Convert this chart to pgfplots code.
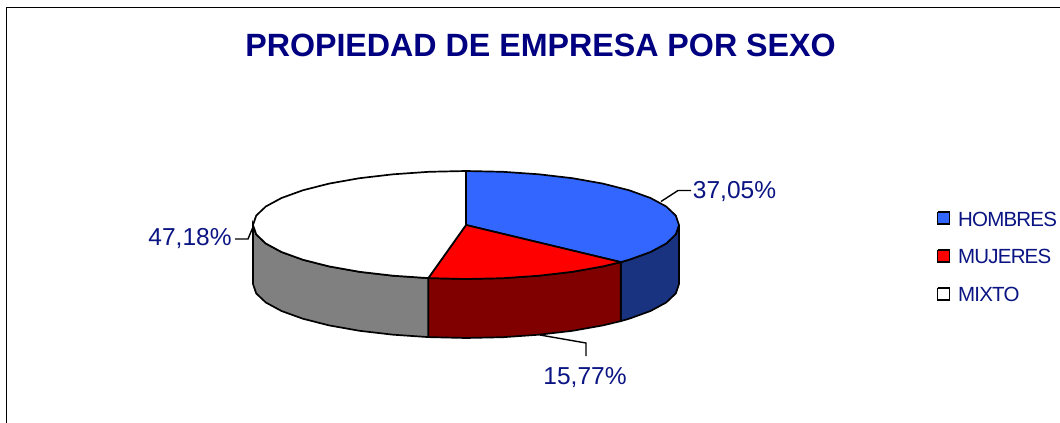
\documentclass[border=0pt]{standalone}
\usepackage{fontspec}
\setmainfont{Liberation Sans}
\usepackage{pgfplots}
\pgfplotsset{compat=1.18}
\definecolor{titleblue}{RGB}{0,0,128}
\definecolor{lab}{RGB}{10,20,130}
\definecolor{hom}{RGB}{51,102,255}
\definecolor{homd}{RGB}{26,51,128}
\definecolor{muj}{RGB}{255,0,0}
\definecolor{mujd}{RGB}{128,0,0}
\definecolor{mix}{RGB}{255,255,255}
\definecolor{mixd}{RGB}{128,128,128}
\begin{document}
\begin{tikzpicture}
\path[use as bounding box] (0,0) rectangle (1060bp,423bp);
\begin{axis}[
  at={(0,0)}, anchor=south west, scale only axis,
  width=1060bp, height=423bp,
  xmin=0, xmax=1060, ymin=0, ymax=423, y dir=reverse,
  hide axis, clip=true,
]
% frame
\addplot[black, line width=2pt] coordinates {(6.5,423) (6.5,7.5) (1060,7.5)};
% sides
\addplot[fill=homd, draw=black, line width=1.7pt] coordinates {
(679,225)(675.8,234.4)(666.2,243.5)(650.5,252)(629.2,259.7)(620.8,262.1)
(620.8,321.1)(629.2,318.7)(650.5,311)(666.2,302.5)(675.8,293.4)(679,284)(679,225)};
\addplot[fill=mujd, draw=black, line width=1.7pt] coordinates {
(620.8,262.1)(602.9,266.4)(572.5,271.8)(538.9,275.7)(503,278.2)(466,279)(428.3,278.1)
(428.3,337.1)(466,338)(503,337.2)(538.9,334.7)(572.5,330.8)(602.9,325.4)(620.8,321.1)(620.8,262.1)};
\addplot[fill=mixd, draw=black, line width=1.7pt] coordinates {
(428.3,278.1)(393.1,275.7)(359.5,271.8)(329.1,266.4)(302.8,259.7)(281.5,252)(265.8,243.5)(256.2,234.4)(253,225)
(253,284)(256.2,293.4)(265.8,302.5)(281.5,311)(302.8,318.7)(329.1,325.4)(359.5,330.8)(393.1,334.7)(428.3,337.1)(428.3,278.1)};
% top faces
\addplot[fill=hom, draw=black, line width=1.7pt] coordinates {
(466,225)(466,171)(503,171.8)(538.9,174.3)(572.5,178.2)(602.9,183.6)(629.2,190.3)(650.5,198)(666.2,206.5)(675.8,215.6)
(679,225)(675.8,234.4)(666.2,243.5)(650.5,252)(629.2,259.7)(620.8,262.1)(466,225)};
\addplot[fill=muj, draw=black, line width=1.7pt] coordinates {
(466,225)(620.8,262.1)(602.9,266.4)(572.5,271.8)(538.9,275.7)(503,278.2)(466,279)(428.3,278.1)(466,225)};
\addplot[fill=mix, draw=black, line width=1.7pt] coordinates {
(466,225)(428.3,278.1)(393.1,275.7)(359.5,271.8)(329.1,266.4)(302.8,259.7)(281.5,252)(265.8,243.5)(256.2,234.4)(253,225)
(256.2,215.6)(265.8,206.5)(281.5,198)(302.8,190.3)(329.1,183.6)(359.5,178.2)(393.1,174.3)(429,171.8)(466,171)(466,225)};
% leader lines
\addplot[black, line width=1.4pt] coordinates {(661,201.5)(678,190.5)(691,190.5)};
\addplot[black, line width=1.4pt] coordinates {(253,227)(248,239)(235,239)};
\addplot[black, line width=1.4pt] coordinates {(540,335)(586,343)(586,356)};
% legend keys
\addplot[fill=hom, draw=black, line width=1.9pt] coordinates {(937.5,212)(949.5,212)(949.5,224)(937.5,224)(937.5,212)};
\addplot[fill=muj, draw=black, line width=1.9pt] coordinates {(937.5,250)(949.5,250)(949.5,262)(937.5,262)(937.5,250)};
\addplot[fill=mix, draw=black, line width=1.9pt] coordinates {(937.5,288)(949.5,288)(949.5,300)(937.5,300)(937.5,288)};
% texts
\node[anchor=center, text=titleblue, font=\fontsize{32.2bp}{36bp}\selectfont\bfseries] at (axis cs:540.5,45) {PROPIEDAD DE EMPRESA POR SEXO};
\node[anchor=center, text=lab, font=\fontsize{24.5bp}{28bp}\selectfont] at (axis cs:734.5,192) {37,05\%};
\node[anchor=center, text=lab, font=\fontsize{24.5bp}{28bp}\selectfont] at (axis cs:190,239) {47,18\%};
\node[anchor=center, text=lab, font=\fontsize{24.5bp}{28bp}\selectfont] at (axis cs:585,377.5) {15,77\%};
\node[anchor=west, inner sep=0pt, text=lab, font=\fontsize{20.5bp}{24bp}\selectfont\addfontfeatures{LetterSpace=-4}] at (axis cs:958,219) {HOMBRES};
\node[anchor=west, inner sep=0pt, text=lab, font=\fontsize{20.5bp}{24bp}\selectfont\addfontfeatures{LetterSpace=-4}] at (axis cs:958,256) {MUJERES};
\node[anchor=west, inner sep=0pt, text=lab, font=\fontsize{20.5bp}{24bp}\selectfont\addfontfeatures{LetterSpace=-4}] at (axis cs:958,294.5) {MIXTO};
\end{axis}
\end{tikzpicture}
\end{document}
